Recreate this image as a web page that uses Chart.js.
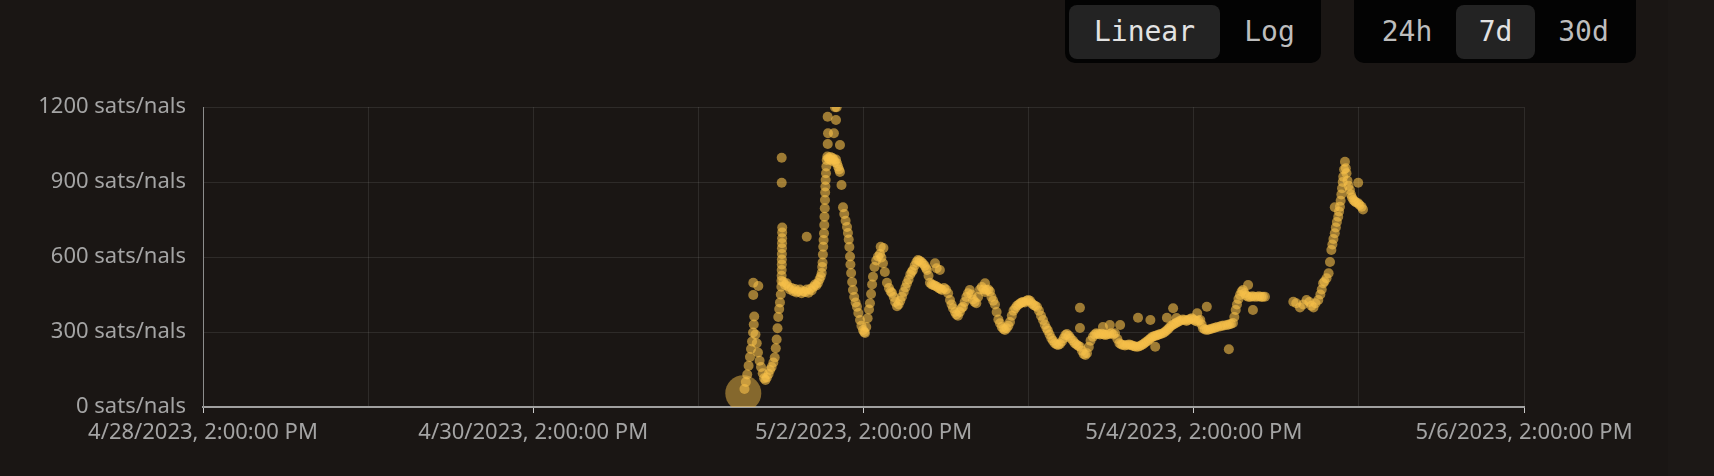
<!DOCTYPE html>
<html>
<head>
<meta charset="utf-8">
<script src="https://cdn.jsdelivr.net/npm/chart.js@4.4.0/dist/chart.umd.min.js"></script>
<style>
  html, body { margin: 0; padding: 0; background: #1a1614; overflow: hidden; }
  #wrap { position: relative; width: 1714px; height: 476px; }
  #edge { position: absolute; left: 1668px; top: 0; width: 46px; height: 476px; background: #1c1816; }
  #chartBox { position: absolute; left: 0; top: 0; width: 1714px; height: 476px; }
  .group { position: absolute; top: -10px; height: 73px; background: #030303; border-radius: 10px; }
  .btn { position: absolute; top: 15px; height: 54px; line-height: 54px; text-align: center;
         font-family: "DejaVu Sans Mono", monospace; font-size: 28px; color: #bdbdbd; border-radius: 8px; }
  .btn.active { background: #232323; color: #e2e2e2; }
</style>
</head>
<body>
<div id="wrap">
  <div id="edge"></div>
  <div id="chartBox"><canvas id="feeChart"></canvas></div>
  <div class="group" style="left:1065px; width:256px;">
    <div class="btn active" style="left:4px; width:151px;">Linear</div>
    <div class="btn" style="left:157px; width:95px;">Log</div>
  </div>
  <div class="group" style="left:1354px; width:282px;">
    <div class="btn" style="left:4px; width:98px;">24h</div>
    <div class="btn active" style="left:102px; width:79px;">7d</div>
    <div class="btn" style="left:181px; width:97px;">30d</div>
  </div>
</div>
<script>
// hours after 4/28/2023, 2:00:00 PM
const xTickLabels = [
    "4/28/2023, 2:00:00 PM", "4/29/2023, 2:00:00 PM", "4/30/2023, 2:00:00 PM",
    "5/1/2023, 2:00:00 PM", "5/2/2023, 2:00:00 PM", "5/3/2023, 2:00:00 PM",
    "5/4/2023, 2:00:00 PM", "5/5/2023, 2:00:00 PM", "5/6/2023, 2:00:00 PM"
];

const sampleHours = [
    78.53, 78.7, 78.9, 79.1, 79.3, 79.5, 79.65, 79.8, 79.95, 80.05, 80.12,
    80.3, 80.48, 80.66, 80.9, 81.1, 81.35, 81.55, 81.75, 81.95, 82.2, 82.41, 82.65, 82.9, 83.1, 83.25, 83.38, 83.5, 83.61, 83.75, 83.86, 83.98, 84.06,
    84.08, 84.1, 84.11, 84.12, 84.13, 84.14, 84.15, 84.16, 84.17, 84.18, 84.19,
    84.35, 84.6, 84.83, 85.05, 85.3, 85.56, 85.8, 86.05, 86.25, 86.48, 86.75, 87.0, 87.25, 87.49, 87.75, 88.0, 88.25, 88.47, 88.7, 88.95, 89.15, 89.38, 89.6, 89.78, 89.92,
    90.0, 90.05, 90.1, 90.15, 90.2, 90.26, 90.3, 90.33, 90.37, 90.4, 90.43, 90.46, 90.5, 90.55, 90.6, 90.65,
    90.75, 90.9, 91.05, 91.2, 91.35, 91.5, 91.65, 91.8, 92.0, 92.15, 92.3, 92.45, 92.58,
    92.8, 93.02, 93.2, 93.4, 93.6, 93.74, 93.85, 93.95, 94.04, 94.1, 94.2, 94.35, 94.47, 94.65, 94.85, 95.05, 95.25, 95.49, 95.7, 95.93, 96.1, 96.22,
    96.4, 96.6, 96.8, 96.94, 97.1, 97.25, 97.38, 97.6, 97.85, 98.11, 98.4, 98.6, 98.83, 99.1, 99.41, 99.7, 99.95, 100.14, 100.4, 100.6, 100.87,
    101.1, 101.35, 101.59, 101.85, 102.1, 102.32, 102.55, 102.8, 103.0, 103.19, 103.45, 103.7, 103.92, 104.15, 104.4, 104.64, 104.9, 105.1, 105.23, 105.45, 105.66,
    105.9, 106.15, 106.4, 106.68, 106.95, 107.2, 107.41, 107.7, 107.99, 108.3, 108.57, 108.8, 109.01, 109.3, 109.5, 109.73, 110.0, 110.25, 110.46, 110.7, 110.95,
    111.19, 111.45, 111.7, 111.91, 112.15, 112.4, 112.65, 112.93, 113.2, 113.45, 113.66, 113.9, 114.15, 114.38, 114.6, 114.85, 115.11, 115.35, 115.6, 115.84,
    116.1, 116.35, 116.56, 116.8, 117.05, 117.29, 117.55, 117.8, 118.05, 118.31, 118.55, 118.8, 119.0, 119.18, 119.45, 119.7, 119.95, 120.2, 120.45, 120.7, 120.95,
    121.22, 121.5, 121.8, 122.09, 122.35, 122.6, 122.81, 123.05, 123.3, 123.54, 123.8, 124.05, 124.3, 124.56, 124.85, 125.1, 125.35, 125.57, 125.85, 126.1, 126.45,
    126.7, 126.95, 127.2, 127.46, 127.75, 128.0, 128.25, 128.48, 128.75, 129.0, 129.35, 129.6, 129.85, 130.1, 130.37, 130.65, 130.9, 131.15, 131.39, 131.7, 132.0,
    132.3, 132.55, 132.9, 133.2, 133.45, 133.71, 134.0, 134.3, 134.6, 134.85, 135.1, 135.35, 135.6, 135.9, 136.19, 136.45, 136.7, 136.95, 137.2, 137.45, 137.7,
    137.95, 138.2, 138.45, 138.7, 138.95, 139.2, 139.53, 139.8, 140.05, 140.3, 140.54, 140.8, 141.05, 141.3, 141.56, 141.85, 142.1, 142.43, 142.7, 142.95, 143.2,
    143.45, 143.7, 143.95, 144.2, 144.47, 144.7, 144.95, 145.15, 145.34, 145.6, 145.92, 146.2, 146.5, 146.8, 147.1, 147.4, 147.81, 148.1, 148.4, 148.83, 149.1,
    149.4, 149.7, 149.9, 150.1, 150.28, 150.5, 150.72, 150.95, 151.16, 151.4, 151.6, 151.88, 152.2, 152.5, 152.8, 153.19, 153.5, 153.8, 154.05, 154.35,
    158.47, 158.9, 159.44, 159.9, 160.4, 160.8, 161.1, 161.4, 161.7, 162.1, 162.4, 162.6, 162.8, 163.0, 163.3, 163.6, 163.8, 164.0, 164.15, 164.3, 164.5,
    164.65, 164.8, 165.0, 165.12, 165.25, 165.35, 165.45, 165.55, 165.65, 165.73, 165.85, 165.98, 166.1, 166.2, 166.35, 166.5, 166.7, 166.85, 167.0, 167.2,
    167.4, 167.6, 167.9, 168.1, 168.4, 168.6
];

const sampleFees = [
    55, 72, 100, 130, 165, 200, 232, 262, 298, 330, 362,
    290, 255, 218, 185, 160, 135, 115, 108, 118, 132, 148, 160, 178, 198, 235, 270, 315, 360, 392, 418, 450, 481,
    505, 525, 548, 570, 590, 612, 635, 655, 675, 698, 718,
    500, 488, 495, 482, 470, 476, 463, 472, 458, 462, 470, 455, 463, 460, 470, 457, 472, 466, 480, 490, 486, 496, 510, 522, 536,
    560, 578, 610, 641, 668, 695, 728, 761, 795, 828, 858, 882, 908, 935, 962, 988,
    1002, 995, 990, 1000, 986, 996, 990, 980, 990, 975, 962, 950, 940,
    888, 799, 772, 745, 720, 696, 670, 640, 602, 570, 536, 500, 468, 440, 418, 401, 376, 348, 325, 308, 300, 296,
    320, 355, 390, 415, 452, 490, 521, 560, 586, 602, 612, 598, 575, 540, 497, 476, 462, 456, 440, 420, 403,
    410, 425, 441, 460, 478, 495, 510, 530, 540, 548, 566, 580, 588, 585, 580, 574, 565, 555, 548, 525, 497,
    490, 488, 485, 481, 475, 472, 468, 476, 470, 455, 428, 410, 395, 380, 370, 365, 380, 395, 401, 420, 440,
    455, 468, 450, 430, 420, 415, 440, 470, 480, 470, 460, 468, 470, 462, 440, 425, 410, 380, 350, 335,
    320, 312, 308, 315, 325, 340, 365, 385, 395, 405, 410, 415, 418, 420, 418, 425, 428, 425, 415, 408, 405,
    400, 385, 365, 348, 330, 315, 305, 290, 275, 265, 255, 250, 248, 252, 262, 275, 288, 292, 285, 275, 265,
    255, 250, 245, 241, 225, 212, 208, 215, 240, 265, 281, 290, 295, 292, 290, 293, 290, 288, 290, 292, 295,
    290, 295, 272, 255, 250, 248, 246, 248, 250, 248, 245, 243, 241, 241, 244, 248, 252, 258, 262, 268, 274,
    280, 283, 285, 287, 290, 292, 295, 300, 306, 312, 320, 326, 330, 334, 338, 342, 346, 350, 348, 344, 348,
    352, 355, 350, 345, 342, 346, 348, 330, 315, 310, 308, 310, 312, 315, 317, 320, 322, 325, 326, 328, 330,
    332, 336, 360, 388, 410, 432, 448, 462, 468, 455, 446, 441, 440, 443, 441, 441, 443, 440, 441, 441,
    421, 415, 398, 410, 428, 420, 405, 398, 415, 428, 450, 470, 495, 502, 515, 535, 580, 628, 650, 672, 695,
    718, 740, 761, 782, 801, 825, 850, 875, 900, 921, 950, 981, 955, 935, 905, 885, 868, 850, 838, 828,
    822, 818, 815, 808, 801, 790
];

// stray samples away from the main band
const outlierHours = [79.98, 80.71, 79.98, 84.11, 84.11, 87.75, 90.79, 90.84, 90.8, 91.86, 92.1, 92.0, 91.7, 92.58,
    98.5, 98.9, 106.4, 107.1, 106.63, 113.66, 127.46, 127.46, 130.8, 131.8, 133.3, 135.9, 137.7, 138.4, 140.1,
    141.0, 141.5, 144.5, 145.9, 149.1, 151.9, 152.6, 164.5, 167.9];
const outlierFees = [497, 484, 448, 997, 897, 681, 1161, 1095, 1052, 1199, 1199, 1148, 1095, 1048,
    641, 636, 575, 548, 555, 495, 397, 316, 320, 328, 328, 357, 348, 241, 357,
    395, 356, 375, 401, 231, 488, 388, 799, 897];

const points = sampleHours.map((h, i) => ({ x: h, y: sampleFees[i] }));
outlierHours.forEach((h, i) => points.push({ x: h, y: outlierFees[i] }));

const tickFont = { family: "'Noto Sans', sans-serif", size: 22 };
const gridColor = "rgba(255,255,255,0.09)";

new Chart("feeChart", {
    type: "scatter",
    data: {
        datasets: [{
            data: points,
            backgroundColor: ctx => ctx.dataIndex === 0 ? "rgba(240,186,70,0.5)" : "rgba(247,192,74,0.6)",
            borderWidth: 0,
            pointRadius: ctx => ctx.dataIndex === 0 ? 18 : 5
        }]
    },
    options: {
        responsive: true,
        maintainAspectRatio: false,
        animation: false,
        events: [],
        layout: { padding: { left: 40, right: 190, top: 107, bottom: 0 } },
        plugins: { legend: { display: false }, tooltip: { enabled: false } },
        scales: {
            x: {
                type: "linear",
                min: 0,
                max: 192,
                ticks: {
                    stepSize: 24,
                    autoSkip: false,
                    maxRotation: 0,
                    padding: 7,
                    color: "#a4a4a4",
                    font: tickFont,
                    callback: (v, i) => i % 2 ? "" : xTickLabels[i]
                },
                grid: {
                    color: gridColor,
                    tickLength: 6,
                    tickColor: ctx => ctx.index % 2 ? "rgba(0,0,0,0)" : "#c8c8c8"
                },
                border: { color: "#a0a0a0", width: 2 },
                afterFit: scale => {
                    scale.height = 69;
                    scale.paddingLeft = 0;
                    scale.paddingRight = 0;
                }
            },
            y: {
                min: 0,
                max: 1200,
                ticks: {
                    stepSize: 300,
                    padding: 17,
                    color: "#a4a4a4",
                    font: tickFont,
                    callback: v => v + " sats/nals"
                },
                grid: { color: gridColor, drawTicks: false },
                border: { color: "#8c8c8c", width: 1 },
                afterFit: scale => {
                    scale.width = 163;
                    scale.paddingTop = 0;
                    scale.paddingBottom = 0;
                }
            }
        }
    }
});
</script>
</body>
</html>
